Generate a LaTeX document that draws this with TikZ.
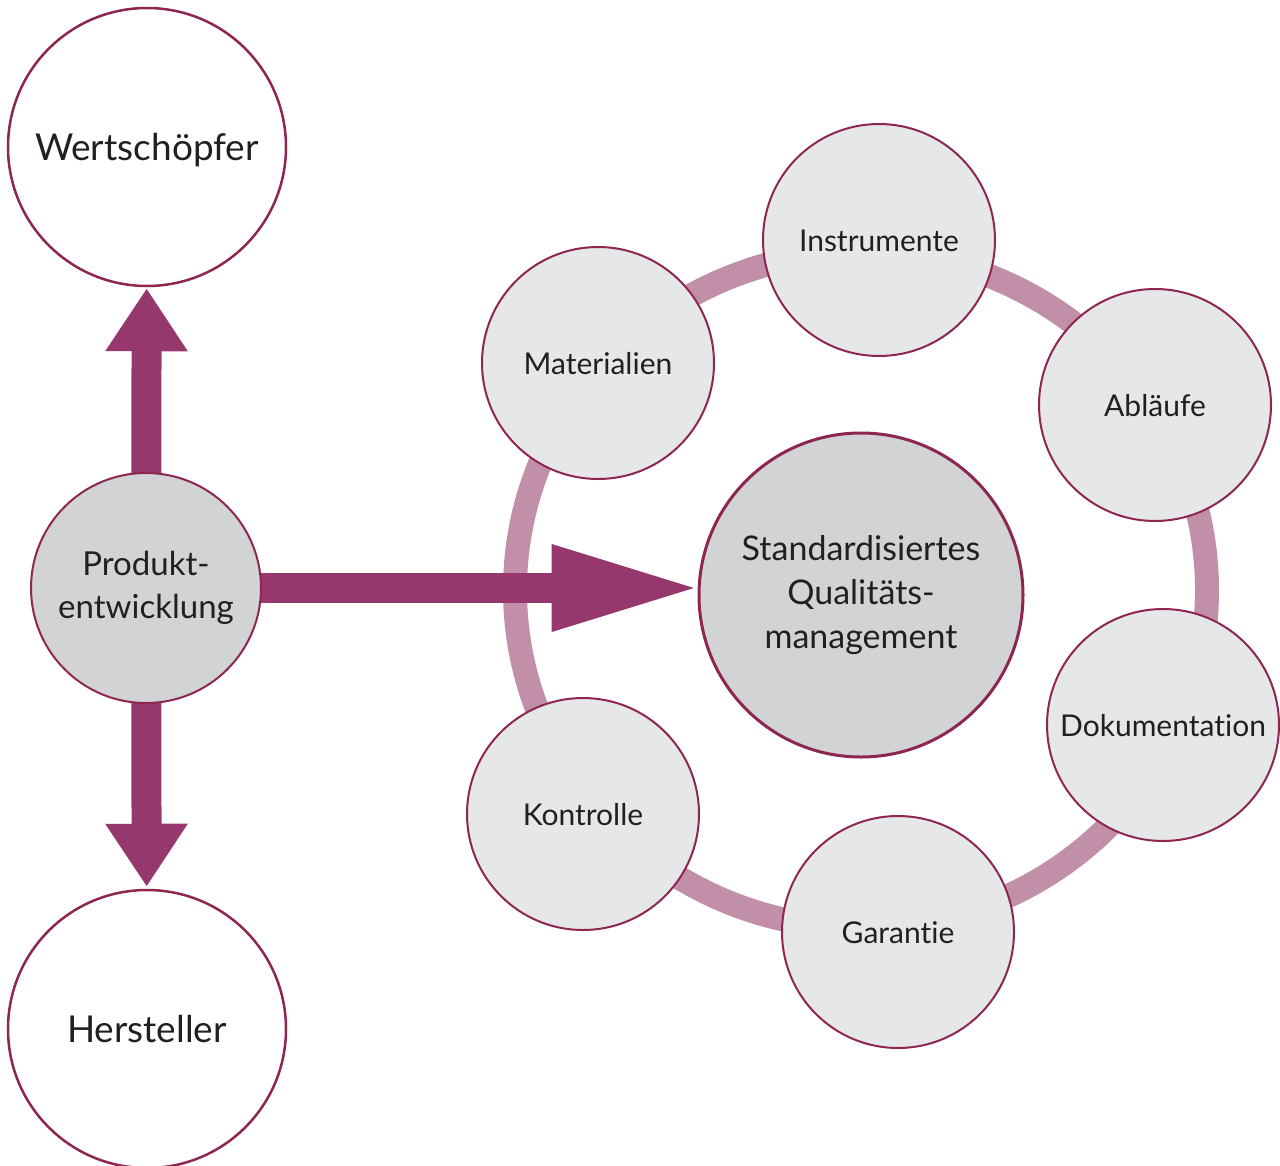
\documentclass[tikz,border=0pt]{standalone}
\usepackage{fontspec}
\setmainfont[Ligatures=NoCommon]{Lato}
\usetikzlibrary{arrows.meta,backgrounds}
\definecolor{qmberry}{RGB}{150,56,110}
\definecolor{qmrim}{RGB}{142,38,82}
\definecolor{qmring}{RGB}{193,143,167}
\definecolor{qmlight}{RGB}{230,231,232}
\definecolor{qmmid}{RGB}{209,211,212}
\definecolor{qmink}{RGB}{35,31,32}
\begin{document}
\begin{tikzpicture}[
    x=1pt, y=-1pt,
    every node/.style={circle, draw=qmrim, line width=2pt, inner sep=0pt, text=qmink},
    bigcircle/.style={text height=27pt, text depth=0pt, minimum size=278pt, fill=white, line width=2.5pt, font=\fontsize{37}{44}\selectfont},
    midcircle/.style={align=center, minimum size=230pt, fill=qmmid, font=\fontsize{33}{43}\selectfont},
    hubcircle/.style={align=center, minimum size=324pt, fill=qmmid, line width=3pt, font=\fontsize{34}{44}\selectfont},
    spokecircle/.style={text height=22pt, text depth=0pt, minimum size=232pt, fill=qmlight, font=\fontsize{30}{38}\selectfont},
    fatarrow/.style={draw=qmberry, line width=30pt, -{Triangle[width=78pt, length=63pt]}},
    ringline/.style={draw=qmring, line width=24pt}
]
\useasboundingbox (0,0) rectangle (1280,1165);

\node [bigcircle] (wert) at (147,147) {Wertschöpfer};
\node [bigcircle] (herst) at (147,1029) {Hersteller};
\node [midcircle] (prod) at (146,588) {Produkt-\\entwicklung};

\node [hubcircle] (qm) at (861,595) {Standardisiertes\\Qualitäts-\\management};
\node [spokecircle] (instr) at (879,240) {Instrumente};
\node [spokecircle] (ablauf) at (1155,405) {Abläufe};
\node [spokecircle] (doku) at (1163,725) {Dokumentation};
\node [spokecircle] (garant) at (898,932) {Garantie};
\node [spokecircle] (kontr) at (583,814) {Kontrolle};
\node [spokecircle] (mat) at (598,363) {Materialien};

\begin{scope}[on background layer]
    \draw [ringline] (861,590) ellipse [x radius=346, y radius=338];
    \draw [fatarrow, shorten >=1pt] (prod.center) -- (wert);
    \draw [fatarrow, shorten >=2pt] (prod.center) -- (herst);
    \draw [fatarrow, shorten >=-6pt, -{Triangle[width=78pt, length=152pt]}] (prod.center) -- (prod.center -| qm.west);
\end{scope}
\end{tikzpicture}
\end{document}
